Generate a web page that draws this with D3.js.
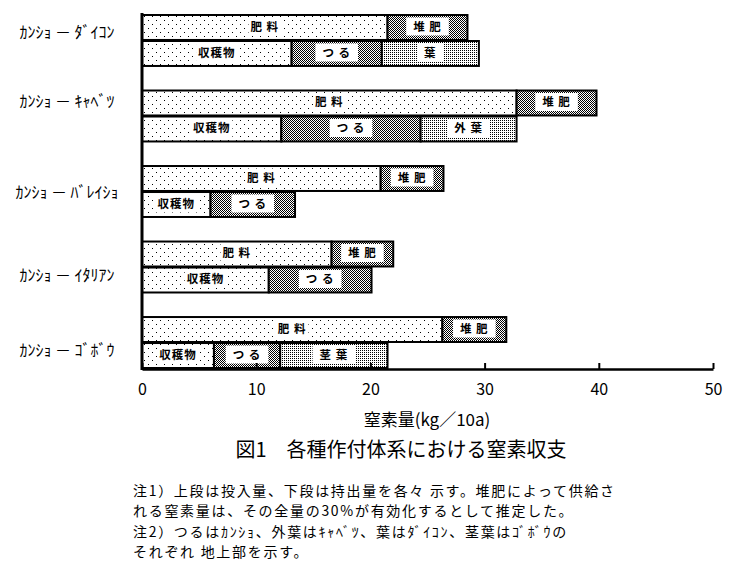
<!DOCTYPE html>
<html>
<head>
<meta charset="utf-8">
<script src="https://cdn.jsdelivr.net/npm/d3@7"></script>
<style>
  body { margin: 0; background: #fff; }
  text { font-family: "Noto Sans CJK JP", "Noto Sans", sans-serif; fill: #000; }
</style>
</head>
<body>
<svg id="chart" width="737" height="569"></svg>
<script>
// crop systems (half-width katakana as in the original)
const categories = ["ｶﾝｼｮ － ﾀﾞｲｺﾝ", "ｶﾝｼｮ － ｷｬﾍﾞﾂ", "ｶﾝｼｮ － ﾊﾞﾚｲｼｮ", "ｶﾝｼｮ － ｲﾀﾘｱﾝ", "ｶﾝｼｮ － ｺﾞﾎﾞｳ"];

// upper bar: input (kg/10a)
const fertilizer = [21.5, 32.8, 20.9, 16.6, 26.3];   // 肥料
const compost    = [7.0, 7.0, 5.5, 5.4, 5.6];        // 堆肥

// lower bar: output (kg/10a)
const harvest = [13.1, 12.2, 6.0, 11.1, 6.3];        // 収穫物
const vine    = [7.9, 12.2, 7.4, 9.0, 5.8];          // つる
const leaf    = [8.5, 8.4, 0, 0, 9.4];               // 葉 / 外葉 / 茎葉
const leafNames = ["葉", "外 葉", "", "", "茎 葉"];

const xTicks = [0, 10, 20, 30, 40, 50];

const notes = [
  "注1）上段は投入量、下段は持出量を各々 示す。堆肥によって供給さ",
  "れる窒素量は、その全量の30%が有効化するとして推定した。",
  "注2）つるはｶﾝｼｮ、外葉はｷｬﾍﾞﾂ、葉はﾀﾞｲｺﾝ、茎葉はｺﾞﾎﾞｳの",
  "それぞれ 地上部を示す。"
];

// category label vertical nudges, as placed in the original
const labelShift = [-8, -15, 1, 8, 8];

const svg = d3.select("#chart");

const x = d3.scaleLinear().domain([0, 50]).range([142, 713]);
const y = d3.scaleBand().domain(categories).range([15, 368]).paddingInner(0.325).paddingOuter(0);
const sub = d3.scaleBand().domain(["in", "out"]).range([0, y.bandwidth()]).paddingInner(0.04);
const axisY = 369;

// fill patterns
const defs = svg.append("defs");
function pattern(id, size, dots) {
  const p = defs.append("pattern")
    .attr("id", id).attr("patternUnits", "userSpaceOnUse")
    .attr("width", size).attr("height", size);
  p.append("rect").attr("width", size).attr("height", size).attr("fill", "#fff");
  dots.forEach(d => p.append("rect").attr("x", d[0]).attr("y", d[1])
    .attr("width", 1).attr("height", 1).attr("fill", "#000")
    .attr("shape-rendering", "crispEdges"));
}
pattern("sparse", 8, [[0, 0], [4, 4]]);
pattern("checker", 2, [[0, 0], [1, 1]]);
pattern("fine", 2, [[0, 0]]);

// build segments
const segs = [];
categories.forEach((c, i) => {
  const rows = [
    { row: "in", parts: [[fertilizer[i], "sparse", "肥 料"], [compost[i], "checker", "堆 肥"]] },
    { row: "out", parts: [[harvest[i], "sparse", "収穫物"], [vine[i], "checker", "つ る"], [leaf[i], "fine", leafNames[i]]] }
  ];
  rows.forEach(r => {
    let acc = 0;
    r.parts.forEach(p => {
      if (p[0] > 0) {
        segs.push({ cat: c, row: r.row, x0: acc, x1: acc + p[0], fill: p[1], label: p[2] });
      }
      acc += p[0];
    });
  });
});

const g = svg.append("g");

g.selectAll(".seg")
  .data(segs)
  .enter().append("rect")
    .attr("class", "seg")
    .attr("x", d => x(d.x0))
    .attr("y", d => y(d.cat) + sub(d.row))
    .attr("width", d => x(d.x1) - x(d.x0))
    .attr("height", sub.bandwidth())
    .attr("fill", d => "url(#" + d.fill + ")")
    .attr("stroke", "#000")
    .attr("stroke-width", 2);

// segment labels with white boxes
const lab = g.selectAll(".lab")
  .data(segs)
  .enter().append("g")
    .attr("class", "lab")
    .attr("transform", d => "translate(" + ((x(d.x0) + x(d.x1)) / 2) + "," + (y(d.cat) + sub(d.row) + sub.bandwidth() / 2 - 1) + ")");

lab.append("rect").attr("fill", "#fff");
lab.append("text")
  .attr("text-anchor", "middle")
  .attr("dy", "0.36em")
  .style("font-size", "11.5px")
  .style("font-weight", "bold")
  .style("letter-spacing", "1px")
  .text(d => d.label);

lab.each(function(d) {
  const sel = d3.select(this);
  const bb = sel.select("text").node().getBBox();
  const padX = d.fill === "sparse" ? 2 : 7;
  sel.select("rect")
    .attr("x", bb.x - padX).attr("y", -9)
    .attr("width", bb.width + padX * 2).attr("height", 18);
});

// x axis
const xAxis = svg.append("g")
  .attr("transform", "translate(0," + axisY + ")")
  .call(d3.axisBottom(x).tickValues(xTicks).tickSize(-6).tickSizeOuter(0).tickPadding(15));
xAxis.select(".domain").attr("stroke", "#000").attr("stroke-width", 2.5);
xAxis.selectAll(".tick line").attr("stroke", "#000").attr("stroke-width", 2);
xAxis.selectAll(".tick text")
  .style("font-family", "'Noto Sans CJK JP', sans-serif")
  .style("font-size", "16px");

// y axis line
svg.append("line")
  .attr("x1", x(0)).attr("x2", x(0))
  .attr("y1", y.range()[0] - 2).attr("y2", axisY + 1)
  .attr("stroke", "#000").attr("stroke-width", 3);

// category labels
svg.selectAll(".cat")
  .data(categories)
  .enter().append("text")
    .attr("class", "cat")
    .attr("x", 67)
    .attr("y", (d, i) => y(d) + y.bandwidth() / 2 + labelShift[i])
    .attr("dy", "0.36em")
    .attr("text-anchor", "middle")
    .style("font-size", "16px")
    .text(d => d);

// axis title
svg.append("text")
  .attr("x", 427).attr("y", 420)
  .attr("dy", "0.36em")
  .attr("text-anchor", "middle")
  .style("font-size", "17px")
  .text("窒素量(kg／10a)");

// figure title
svg.append("text")
  .attr("x", 401).attr("y", 450)
  .attr("dy", "0.36em")
  .attr("text-anchor", "middle")
  .style("font-size", "20px")
  .text("図1　各種作付体系における窒素収支");

// notes
svg.selectAll(".note")
  .data(notes)
  .enter().append("text")
    .attr("class", "note")
    .attr("x", 133)
    .attr("y", (d, i) => 491 + i * 20.4)
    .attr("dy", "0.36em")
    .style("font-size", "14px")
    .style("letter-spacing", "1.7px")
    .text(d => d);
</script>
</body>
</html>
